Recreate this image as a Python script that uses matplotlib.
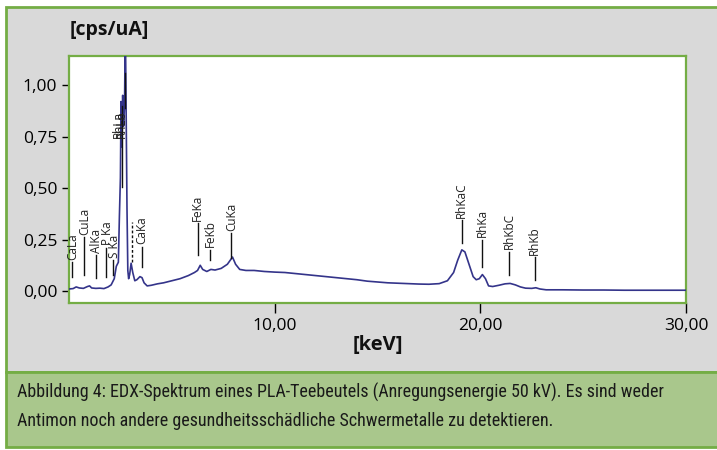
import matplotlib
matplotlib.use("Agg")
import matplotlib.pyplot as plt
from matplotlib.patches import Rectangle
from matplotlib.ticker import FuncFormatter
from matplotlib import font_manager

# ---- data ----
energy_kev = [0.0, 0.2, 0.35, 0.5, 0.7, 0.9, 1.0, 1.1, 1.3, 1.5, 1.7, 1.9, 2.05, 2.2, 2.3, 2.4,
              2.45, 2.5, 2.53, 2.57, 2.61, 2.65, 2.7, 2.74, 2.78, 2.82, 2.86, 2.9, 2.95, 3.02,
              3.1, 3.2, 3.3, 3.45, 3.55, 3.65, 3.8, 4.0, 4.3, 4.6, 5.0, 5.4, 5.8, 6.1, 6.25,
              6.38, 6.5, 6.7, 6.9, 7.1, 7.4, 7.7, 7.95, 8.1, 8.3, 8.6, 9.0, 9.5, 10.0, 10.5,
              11.0, 11.5, 12.0, 12.5, 13.0, 13.5, 14.0, 14.5, 15.0, 15.5, 16.0, 16.5, 17.0,
              17.5, 18.0, 18.4, 18.7, 18.9, 19.1, 19.25, 19.45, 19.65, 19.8, 19.95, 20.1,
              20.25, 20.4, 20.6, 20.9, 21.2, 21.45, 21.7, 21.95, 22.2, 22.5, 22.7, 22.9, 23.2,
              24.0, 25.0, 26.0, 27.0, 28.0, 29.0, 30.0]
cps_per_ua = [0.010, 0.012, 0.020, 0.015, 0.013, 0.022, 0.025, 0.015, 0.013, 0.014, 0.012, 0.020,
              0.030, 0.060, 0.120, 0.140, 0.360, 0.550, 0.920, 0.700, 0.950, 0.800, 0.900, 1.300,
              0.850, 0.400, 0.100, 0.060, 0.080, 0.135, 0.090, 0.050, 0.055, 0.070, 0.065, 0.040,
              0.025, 0.028, 0.035, 0.040, 0.050, 0.060, 0.075, 0.090, 0.100, 0.125, 0.105, 0.095,
              0.105, 0.102, 0.110, 0.130, 0.165, 0.130, 0.105, 0.100, 0.100, 0.095, 0.092, 0.090,
              0.085, 0.080, 0.075, 0.070, 0.065, 0.060, 0.055, 0.048, 0.044, 0.040, 0.038, 0.036,
              0.034, 0.033, 0.036, 0.050, 0.090, 0.150, 0.200, 0.190, 0.130, 0.070, 0.055, 0.060,
              0.080, 0.060, 0.025, 0.022, 0.028, 0.035, 0.037, 0.030, 0.020, 0.014, 0.013, 0.016,
              0.010, 0.006, 0.006, 0.005, 0.005, 0.004, 0.004, 0.004, 0.004]

# peak markers: label, energy, line bottom, line top, label position (energy, base height)
marker_labels = ["CaLa", "CuLa", "AlKa", "P Ka", "S Ka", "CaKa", "FeKa", "FeKb", "CuKa",
                 "RhKaC", "RhKa", "RhKbC", "RhKb", "RhLa", "RhLb"]
marker_kev = [0.16, 0.75, 1.33, 1.82, 2.15, 3.56, 6.25, 6.88, 7.9,
              19.1, 20.1, 21.4, 22.65, 2.58, 2.73]
marker_bottom = [0.068, 0.078, 0.063, 0.068, 0.078, 0.117, 0.175, 0.150, 0.160,
                 0.233, 0.117, 0.078, 0.053, 0.505, 0.890]
marker_top = [0.140, 0.260, 0.175, 0.210, 0.150, 0.214, 0.330, 0.200, 0.280,
              0.345, 0.248, 0.190, 0.165, 0.900, 1.060]
label_kev = [0.16, 0.75, 1.33, 1.85, 2.2, 3.56, 6.25, 6.88, 7.9,
             19.1, 20.1, 21.4, 22.65, 2.4, 2.55]
label_base = [0.152, 0.272, 0.187, 0.222, 0.162, 0.226, 0.342, 0.212, 0.292,
              0.357, 0.260, 0.202, 0.177, 0.745, 0.745]
dashed_marker_kev = [3.07]
dashed_marker_range = [0.14, 0.335]

x_ticks = [10, 20, 30]
y_ticks = [0.0, 0.25, 0.5, 0.75, 1.0]

caption_lines = ["Abbildung 4: EDX-Spektrum eines PLA-Teebeutels (Anregungsenergie 50 kV). Es sind weder",
                 "Antimon noch andere gesundheitsschädliche Schwermetalle zu detektieren."]

# ---- figure ----
W, H = 717, 450
fig = plt.figure(figsize=(W / 100, H / 100), dpi=100)
fig.patch.set_facecolor("white")

green = "#74ad45"
def px(x, y):
    return x / W, 1 - y / H

# gray panel
fig.patches.append(Rectangle((6 / W, 1 - 372 / H), (W + 10) / W, (372 - 6.5) / H,
                             transform=fig.transFigure, facecolor="#d9d9d9",
                             edgecolor=green, linewidth=2.0, zorder=0))
# caption panel
fig.patches.append(Rectangle((6 / W, 1 - 447 / H), (W + 10) / W, (447 - 372) / H,
                             transform=fig.transFigure, facecolor="#a9c78c",
                             edgecolor=green, linewidth=2.0, zorder=0))

left, right, top, bottom = 69, 686, 56, 303
ax = fig.add_axes([left / W, 1 - bottom / H, (right - left) / W, (bottom - top) / H])
ax.set_zorder(5)
ax.set_facecolor("white")
for s in ax.spines.values():
    s.set_color(green)
    s.set_linewidth(1.6)

ax.plot(energy_kev, cps_per_ua, color="#34348a", linewidth=1.2, zorder=3)

lab_font = dict(family=["Open Sans", "DejaVu Sans"], fontsize=8.5, color="#222222")
for lab, e, b, t, le, lb in zip(marker_labels, marker_kev, marker_bottom, marker_top,
                                label_kev, label_base):
    ax.plot([e, e], [b, t], color="#111111", linewidth=1.0, zorder=4)
    ax.text(le, lb, lab, rotation=90, ha="center", va="bottom", zorder=5, **lab_font)
for e in dashed_marker_kev:
    ax.plot([e, e], dashed_marker_range, color="#111111", linewidth=1.0,
            linestyle=(0, (2, 1.5)), zorder=4)

ax.set_xlim(0, 30)
ax.set_ylim(-0.058, 1.141)
ax.set_xticks(x_ticks)
ax.set_yticks(y_ticks)
fmt = FuncFormatter(lambda v, p: f"{v:.2f}".replace(".", ","))
ax.xaxis.set_major_formatter(fmt)
ax.yaxis.set_major_formatter(fmt)
ax.tick_params(axis="both", colors="black", labelsize=12.5, length=5, width=1.0)
ax.tick_params(axis="x", length=7, pad=4)
for t in ax.get_xticklabels() + ax.get_yticklabels():
    t.set_family(["Open Sans", "DejaVu Sans"])

fig.text(*px(109, 30), "[cps/uA]", ha="center", va="center", fontsize=14,
         fontweight="bold", family=["Open Sans", "DejaVu Sans"], color="#111111")
fig.text(*px(378, 345), "[keV]", ha="center", va="center", fontsize=14.5,
         fontweight="bold", family=["Open Sans", "DejaVu Sans"], color="#111111")

# caption: pick a narrow font if available, then fit line 1 to its width in the reference
available = {f.name for f in font_manager.fontManager.ttflist}
cap_family = "DejaVu Sans"
for cand in ["Liberation Sans Narrow", "Roboto Condensed", "DejaVu Sans Condensed",
             "Open Sans Condensed", "Noto Sans Display", "Roboto", "Lato"]:
    if cand in available:
        cap_family = cand
        break
cap1 = fig.text(*px(17, 392), caption_lines[0], ha="left", va="center", fontsize=11.5,
                family=cap_family, color="#1a1a1a")
renderer = fig.canvas.get_renderer()
w1 = cap1.get_window_extent(renderer).width
cap_size = min(13.0, 11.5 * 686.0 / w1)
cap1.set_fontsize(cap_size)
fig.text(*px(17, 421), caption_lines[1], ha="left", va="center", fontsize=cap_size,
         family=cap_family, color="#1a1a1a")

fig.savefig("out.png", dpi=100, facecolor=fig.get_facecolor())
